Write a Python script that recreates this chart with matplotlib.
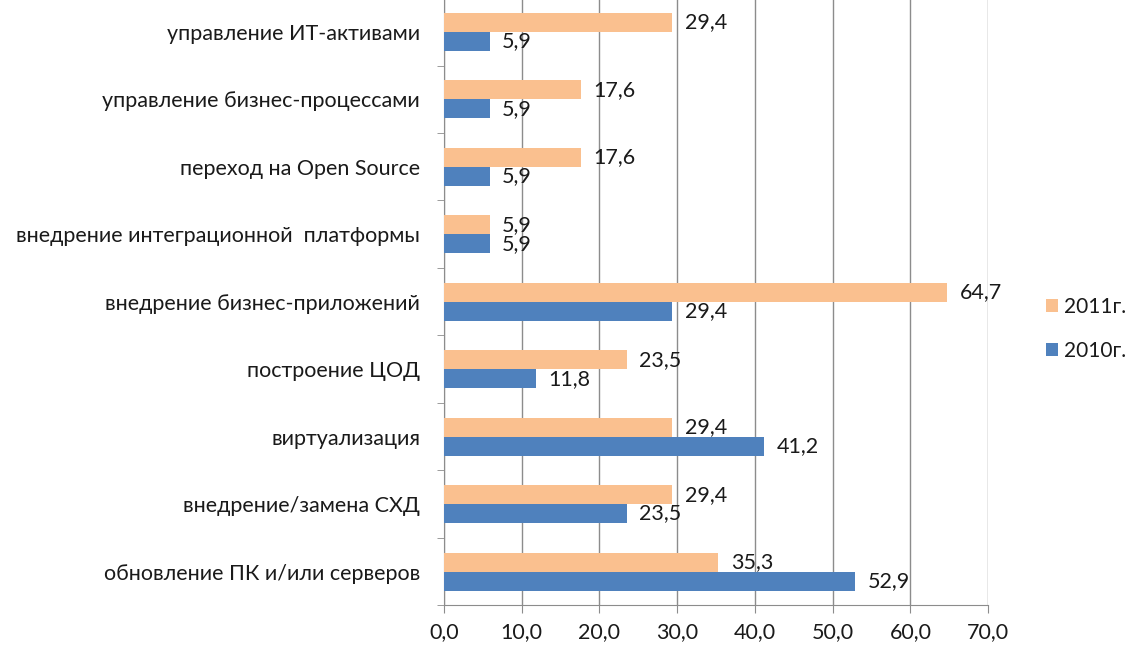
import numpy as np
import matplotlib
matplotlib.use("Agg")
import matplotlib.pyplot as plt
from matplotlib.ticker import FuncFormatter

plt.rcParams["font.family"] = ["Lato", "DejaVu Sans"]

# data (bottom to top)
categories = [
    "обновление ПК и/или серверов",
    "внедрение/замена СХД",
    "виртуализация",
    "построение ЦОД",
    "внедрение бизнес-приложений",
    "внедрение интеграционной  платформы",
    "переход на Open Source",
    "управление бизнес-процессами",
    "управление ИТ-активами",
]
values_2011 = [35.3, 29.4, 29.4, 23.5, 64.7, 5.9, 17.6, 17.6, 29.4]
values_2010 = [52.9, 23.5, 41.2, 11.8, 29.4, 5.9, 5.9, 5.9, 5.9]
series_labels = ["2011г.", "2010г."]

c2011 = "#FAC08F"
c2010 = "#4F81BD"
grid_c = "#8C8C8C"
text_c = "#1A1A1A"
fs = 15.5

fig = plt.figure(figsize=(11.32, 6.58), dpi=100)
ax = fig.add_axes([0.392, 0.08, 0.481, 0.923])

y = np.arange(len(categories))
h = 0.28
b11 = ax.barh(y + h / 2, values_2011, height=h, color=c2011, label=series_labels[0], zorder=3)
b10 = ax.barh(y - h / 2, values_2010, height=h, color=c2010, label=series_labels[1], zorder=3)

fmt = lambda v: f"{v:.1f}".replace(".", ",")
for bars, vals in ((b11, values_2011), (b10, values_2010)):
    for rect, v in zip(bars, vals):
        ax.annotate(fmt(v), (v, rect.get_y() + rect.get_height() / 2),
                    xytext=(9, 0), textcoords="offset points",
                    va="center", ha="left", fontsize=fs, color=text_c, zorder=4)

ax.set_xlim(0, 70)
ax.set_ylim(-0.5, len(categories) - 0.5)
ax.set_xticks(np.arange(0, 71, 10))
ax.xaxis.set_major_formatter(FuncFormatter(lambda v, p: fmt(v)))
ax.set_yticks(y)
ax.set_yticklabels(categories)
ax.set_yticks(np.arange(-0.5, len(categories), 1), minor=True)
ax.tick_params(axis="y", which="major", length=0, pad=17, labelsize=fs, labelcolor=text_c)
ax.tick_params(axis="y", which="minor", length=5, color=grid_c)
ax.tick_params(axis="x", which="major", length=6, color=grid_c, pad=6,
               labelsize=fs, labelcolor=text_c)

ax.grid(axis="x", color=grid_c, linewidth=1, zorder=0)
for s in ("top", "right"):
    ax.spines[s].set_visible(False)
for s in ("left", "bottom"):
    ax.spines[s].set_color(grid_c)

fig.legend(handles=[b11, b10], labels=series_labels, loc="center left",
           bbox_to_anchor=(0.924, 0.5), frameon=False, fontsize=15,
           borderpad=0, borderaxespad=0,
           handlelength=0.6, handleheight=0.6, handletextpad=0.25,
           labelspacing=1.15, labelcolor=text_c)

fig.savefig("out.png", dpi=100)
